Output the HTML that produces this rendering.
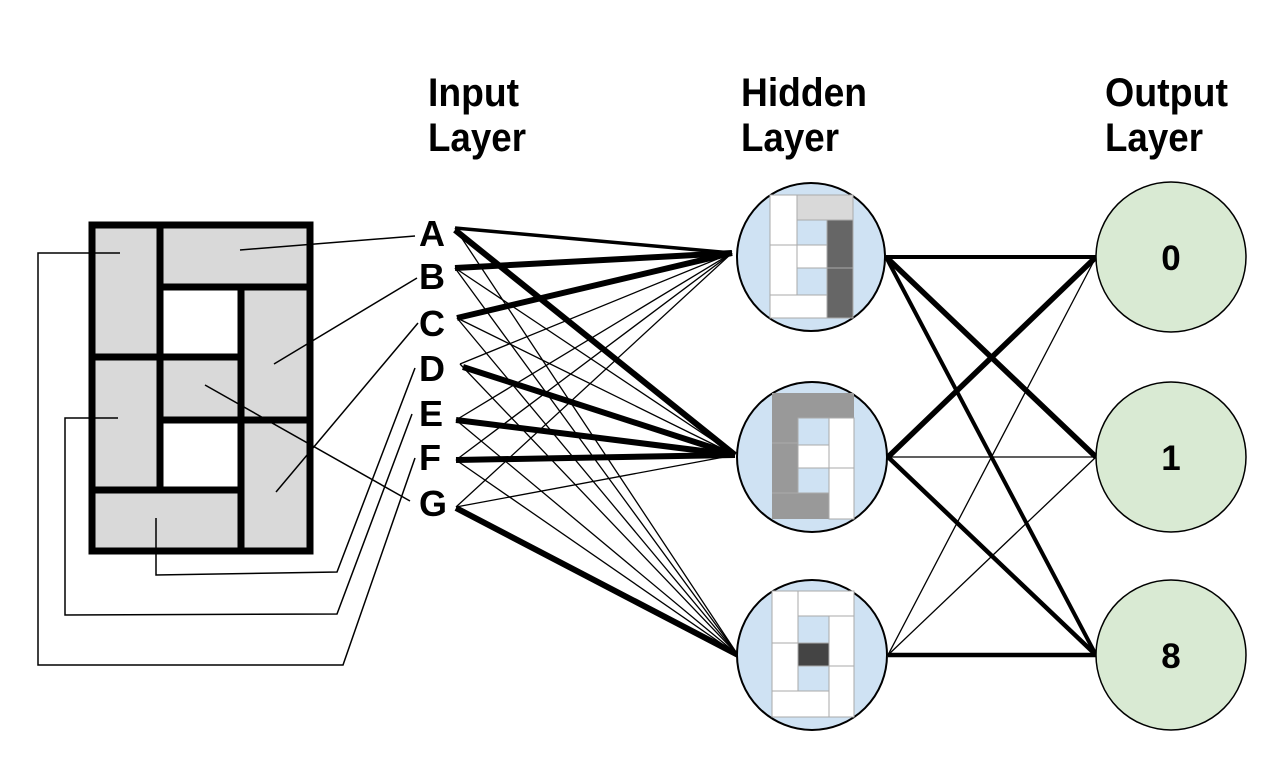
<!DOCTYPE html>
<html><head><meta charset="utf-8"><style>
html,body{margin:0;padding:0;background:#fff;}
svg{display:block}
text{font-family:"Liberation Sans",sans-serif;font-weight:bold;fill:#000}
</style></head><body>
<svg width="1264" height="758" viewBox="0 0 1264 758" xmlns="http://www.w3.org/2000/svg">
<!-- headers -->
<g font-size="40">
<text x="428" y="106" textLength="91" lengthAdjust="spacingAndGlyphs">Input</text><text x="428" y="151" textLength="98" lengthAdjust="spacingAndGlyphs">Layer</text>
<text x="741" y="106" textLength="126" lengthAdjust="spacingAndGlyphs">Hidden</text><text x="741" y="151" textLength="98" lengthAdjust="spacingAndGlyphs">Layer</text>
<text x="1105" y="106" textLength="123" lengthAdjust="spacingAndGlyphs">Output</text><text x="1105" y="151" textLength="98" lengthAdjust="spacingAndGlyphs">Layer</text>
</g>
<!-- input grid -->
<rect x="92" y="225" width="218" height="326" fill="#d9d9d9"/>
<rect x="160" y="288" width="81" height="69" fill="#fff"/>
<rect x="160" y="419" width="81" height="71" fill="#fff"/>
<g stroke="#000" stroke-width="7" fill="none" stroke-linecap="square">
<rect x="92" y="225" width="218" height="326"/>
<line x1="160" y1="225" x2="160" y2="490"/>
<line x1="92" y1="357" x2="160" y2="357"/>
<line x1="160" y1="287" x2="310" y2="287"/>
<line x1="241" y1="287" x2="241" y2="551"/>
<line x1="160" y1="357" x2="241" y2="357"/>
<line x1="160" y1="420" x2="310" y2="420"/>
<line x1="92" y1="490" x2="241" y2="490"/>
</g>
<!-- leader lines -->
<g stroke="#000" stroke-width="1.5" fill="none">
<line x1="240" y1="250" x2="415" y2="236"/>
<line x1="274" y1="364" x2="417" y2="278"/>
<line x1="276" y1="492" x2="418" y2="323"/>
<line x1="205" y1="385" x2="410" y2="501"/>
<polyline points="156,518 156,575 337,572 415,368"/>
<polyline points="118,418 65,418 65,615 337,614 412,414"/>
<polyline points="120,253 38,253 38,665 343,665 415,458"/>
</g>
<g font-size="36">
<text x="419" y="246">A</text><text x="419" y="289">B</text><text x="419" y="336">C</text>
<text x="419" y="381">D</text><text x="419" y="426">E</text><text x="419" y="470">F</text><text x="419" y="516">G</text>
</g>
<!-- input to hidden -->
<g stroke="#000" fill="none">
<g stroke-width="1.3">
<line x1="455" y1="228" x2="738" y2="655"/>
<line x1="455" y1="268" x2="735" y2="455"/><line x1="455" y1="268" x2="738" y2="655"/>
<line x1="457" y1="318" x2="735" y2="455"/><line x1="457" y1="318" x2="738" y2="655"/>
<line x1="460" y1="364" x2="732" y2="253"/><line x1="460" y1="364" x2="738" y2="655"/>
<line x1="456" y1="420" x2="732" y2="253"/><line x1="456" y1="420" x2="738" y2="655"/>
<line x1="456" y1="460" x2="732" y2="253"/><line x1="456" y1="460" x2="738" y2="655"/>
<line x1="456" y1="507" x2="732" y2="253"/><line x1="456" y1="507" x2="735" y2="455"/>
</g>
<line x1="455" y1="228" x2="732" y2="253" stroke-width="3.5"/>
<g stroke-width="6">
<line x1="455" y1="230" x2="735" y2="455"/>
<line x1="455" y1="268" x2="732" y2="253"/>
<line x1="457" y1="318" x2="732" y2="253"/>
<line x1="463" y1="367" x2="735" y2="455"/>
<line x1="456" y1="420" x2="735" y2="455"/>
<line x1="456" y1="460" x2="735" y2="455"/>
<line x1="456" y1="508" x2="738" y2="655"/>
</g>
</g>
<!-- hidden to output -->
<g stroke="#000" fill="none">
<line x1="886" y1="257" x2="1096" y2="257" stroke-width="4"/>
<line x1="886" y1="257" x2="1096" y2="457" stroke-width="5.5"/>
<line x1="886" y1="257" x2="1096" y2="655" stroke-width="4"/>
<line x1="888" y1="457" x2="1096" y2="257" stroke-width="5.5"/>
<line x1="888" y1="457" x2="1096" y2="457" stroke-width="1.3"/>
<line x1="888" y1="457" x2="1096" y2="655" stroke-width="4.5"/>
<line x1="888" y1="655" x2="1096" y2="257" stroke-width="1.3"/>
<line x1="888" y1="655" x2="1096" y2="457" stroke-width="1.3"/>
<line x1="888" y1="655" x2="1096" y2="655" stroke-width="4.5"/>
</g>
<!-- hidden circles -->
<g stroke="#000" stroke-width="2" fill="#cfe2f3">
<circle cx="811" cy="257" r="74"/>
<circle cx="812" cy="457" r="75"/>
<circle cx="812" cy="655" r="75"/>
</g>
<g stroke="#aaa" stroke-width="1">
<rect x="770" y="195" width="27" height="50" fill="#fff"/>
<rect x="797" y="195" width="56" height="25" fill="#d9d9d9"/>
<rect x="797" y="220" width="30" height="25" fill="#cfe2f3"/>
<rect x="827" y="220" width="26" height="48" fill="#666"/>
<rect x="827" y="268" width="26" height="50" fill="#666"/>
<rect x="770" y="245" width="27" height="50" fill="#fff"/>
<rect x="797" y="245" width="30" height="23" fill="#fff"/>
<rect x="797" y="268" width="30" height="27" fill="#cfe2f3"/>
<rect x="770" y="295" width="57" height="23" fill="#fff"/>
<rect x="772" y="393" width="82" height="25" fill="#999" stroke="none"/>
<rect x="772" y="418" width="26" height="50" fill="#999" stroke="none"/>
<rect x="772" y="468" width="57" height="51" fill="#999" stroke="none"/>
<line x1="772" y1="443" x2="798" y2="443" stroke="#aaa"/>
<line x1="772" y1="493" x2="798" y2="493" stroke="#aaa"/>
<rect x="798" y="418" width="31" height="27" fill="#cfe2f3"/>
<rect x="798" y="445" width="31" height="23" fill="#fff"/>
<rect x="798" y="468" width="31" height="25" fill="#cfe2f3"/>
<rect x="829" y="418" width="25" height="50" fill="#fff"/>
<rect x="829" y="468" width="25" height="51" fill="#fff"/>
<rect x="772" y="591" width="26" height="52" fill="#fff"/>
<rect x="798" y="591" width="56" height="25" fill="#fff"/>
<rect x="798" y="616" width="31" height="27" fill="#cfe2f3"/>
<rect x="829" y="616" width="25" height="50" fill="#fff"/>
<rect x="772" y="643" width="26" height="48" fill="#fff"/>
<rect x="798" y="643" width="31" height="23" fill="#444"/>
<rect x="798" y="666" width="31" height="25" fill="#cfe2f3"/>
<rect x="829" y="666" width="25" height="51" fill="#fff"/>
<rect x="772" y="691" width="57" height="26" fill="#fff"/>
</g>
<!-- output circles -->
<g stroke="#000" stroke-width="1.5" fill="#d9ead3">
<circle cx="1171" cy="257" r="75"/>
<circle cx="1171" cy="457" r="75"/>
<circle cx="1171" cy="655" r="75"/>
</g>
<g font-size="35" text-anchor="middle">
<text x="1171" y="270">0</text><text x="1171" y="470">1</text><text x="1171" y="668">8</text>
</g>
</svg>
</body></html>
